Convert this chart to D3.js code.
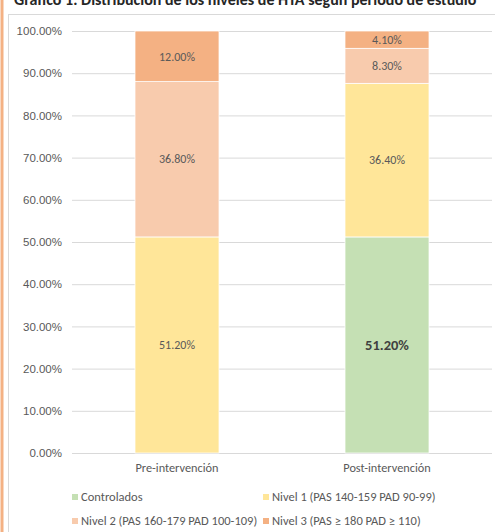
<!DOCTYPE html>
<html>
<head>
<meta charset="utf-8">
<script src="https://cdn.jsdelivr.net/npm/d3@7"></script>
<style>
  html, body { margin: 0; padding: 0; background: #fff; overflow: hidden; }
  svg { display: block; font-family: Carlito, Lato, "Open Sans", "Noto Sans", sans-serif; }
</style>
</head>
<body>
<svg id="chart" width="495" height="532"></svg>
<script>
// ── Data ────────────────────────────────────────────────────
const categories = ['Pre-intervención', 'Post-intervención'];
const seriesNames = ['Controlados', 'Nivel 1 (PAS 140-159 PAD 90-99)',
                     'Nivel 2 (PAS 160-179 PAD 100-109)', 'Nivel 3 (PAS ≥ 180  PAD ≥ 110)'];
const controlados = [0, 51.2];
const nivel1 = [51.2, 36.4];
const nivel2 = [36.8, 8.3];
const nivel3 = [12.0, 4.1];
const yTicks = [0, 10, 20, 30, 40, 50, 60, 70, 80, 90, 100];

const seriesColors = ['#c5e0b4', '#ffe699', '#f8cbad', '#f4b183'];

const rows = categories.map((c, i) => ({
  cat: c,
  [seriesNames[0]]: controlados[i],
  [seriesNames[1]]: nivel1[i],
  [seriesNames[2]]: nivel2[i],
  [seriesNames[3]]: nivel3[i]
}));

const svg = d3.select('#chart');

// ── Frame ───────────────────────────────────────────────────
svg.append('rect')
  .attr('x', 0.5).attr('y', 0).attr('width', 3).attr('height', 532)
  .attr('fill', '#f4b183');

svg.append('rect')
  .attr('x', 8.5).attr('y', 14.5).attr('width', 500).attr('height', 530)
  .attr('fill', 'none').attr('stroke', '#d9d9d9').attr('stroke-width', 1);

// Title, cut off by the top edge as in the source
svg.append('text')
  .attr('x', 14).attr('y', 5)
  .attr('font-size', '16px').attr('font-weight', 'bold')
  .attr('fill', '#262626')
  .text('Gráfico 1. Distribución de los niveles de HTA según periodo de estudio');

// ── Scales ──────────────────────────────────────────────────
const plot = { left: 72, right: 492, top: 31, bottom: 453 };

const x = d3.scaleBand()
  .domain(categories)
  .range([plot.left, plot.right])
  .paddingInner(0.6).paddingOuter(0.3);

const y = d3.scaleLinear()
  .domain([0, 100])
  .range([plot.bottom, plot.top]);

// ── Grid + y axis ───────────────────────────────────────────
const yAxis = d3.axisLeft(y)
  .tickValues(yTicks)
  .tickSize(-(plot.right - plot.left))
  .tickPadding(10)
  .tickFormat(d => d.toFixed(2) + '%');

const gy = svg.append('g')
  .attr('transform', `translate(${plot.left},0)`)
  .call(yAxis);
gy.select('.domain').remove();
gy.selectAll('.tick line').attr('stroke', '#d9d9d9').attr('stroke-width', 1);
gy.selectAll('.tick text')
  .attr('fill', '#595959').attr('font-size', '11.5px');

// ── Stacked bars ────────────────────────────────────────────
const stack = d3.stack().keys(seriesNames);
const stacked = stack(rows);

const layers = svg.append('g').selectAll('g')
  .data(stacked)
  .join('g')
  .attr('fill', (d, i) => seriesColors[i]);

layers.selectAll('rect')
  .data(d => d.filter(s => s[1] - s[0] > 0))
  .join('rect')
  .attr('x', d => x(d.data.cat))
  .attr('y', d => y(d[1]))
  .attr('width', x.bandwidth())
  .attr('height', d => y(d[0]) - y(d[1]))
  .attr('stroke', '#fff')
  .attr('stroke-width', 0.75);

// Value labels
layers.each(function(layer, li) {
  d3.select(this).selectAll('text')
    .data(layer.filter(s => s[1] - s[0] > 0))
    .join('text')
    .attr('x', d => x(d.data.cat) + x.bandwidth() / 2)
    .attr('y', d => y((d[0] + d[1]) / 2))
    .attr('dy', '0.35em')
    .attr('text-anchor', 'middle')
    .attr('font-size', li === 0 ? '14.5px' : '12px')
    .attr('font-weight', li === 0 ? 'bold' : 'normal')
    .attr('fill', li === 0 ? '#404040' : '#595959')
    .text(d => (d[1] - d[0]).toFixed(2) + '%');
});

// ── X axis labels ───────────────────────────────────────────
svg.append('g').selectAll('text')
  .data(categories)
  .join('text')
  .attr('x', d => x(d) + x.bandwidth() / 2)
  .attr('y', 472)
  .attr('text-anchor', 'middle')
  .attr('font-size', '12.3px')
  .attr('fill', '#595959')
  .text(d => d);

// ── Legend ──────────────────────────────────────────────────
const legendPos = [
  { x: 72, y: 497 }, { x: 263, y: 497 },
  { x: 72, y: 521 }, { x: 263, y: 521 }
];

const legend = svg.append('g').selectAll('g')
  .data(seriesNames)
  .join('g')
  .attr('transform', (d, i) => `translate(${legendPos[i].x},${legendPos[i].y})`);

legend.append('rect')
  .attr('x', 0).attr('y', -3)
  .attr('width', 6).attr('height', 6)
  .attr('fill', (d, i) => seriesColors[i]);

legend.append('text')
  .attr('x', 9).attr('y', 0)
  .attr('dy', '0.35em')
  .attr('font-size', '12.5px')
  .attr('fill', '#595959')
  .text(d => d);
</script>
</body>
</html>
